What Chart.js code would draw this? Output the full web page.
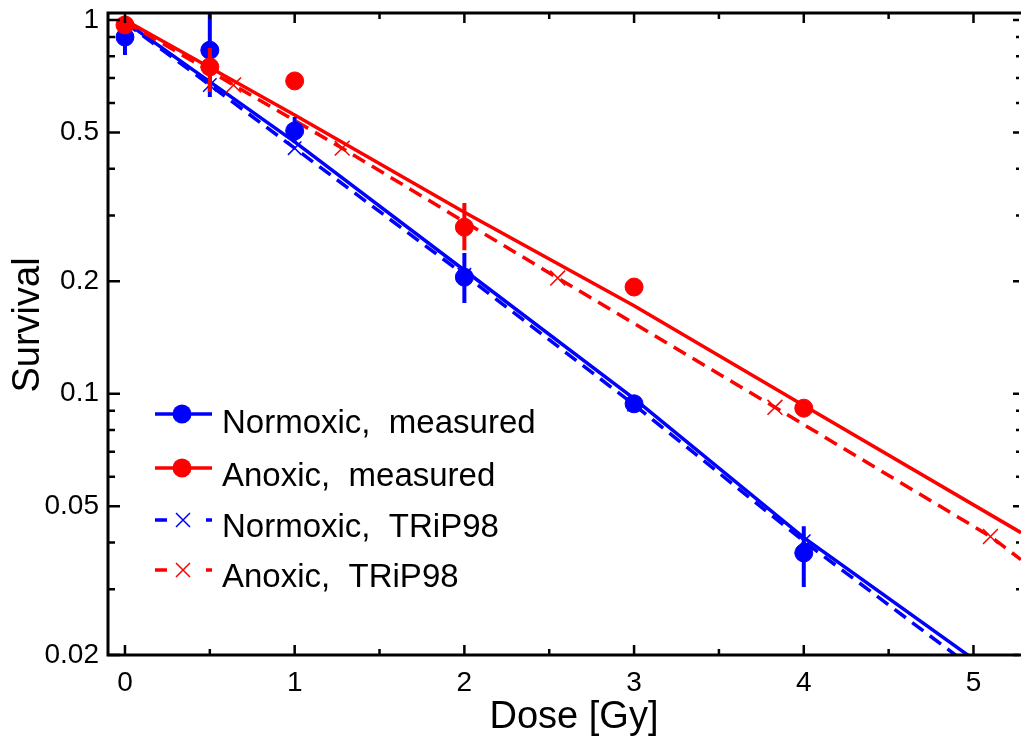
<!DOCTYPE html>
<html>
<head>
<meta charset="utf-8">
<script src="https://cdn.jsdelivr.net/npm/chart.js@4"></script>
<style>
  html, body { margin: 0; padding: 0; background: #fff; }
  #grafico { display: block; }
</style>
</head>
<body>
<canvas id="grafico" width="1021" height="738"></canvas>
<script>
// measured survival, dose in Gy
const dosesMeasured = [0, 0.5, 1, 2, 3, 4];
const normoxicMeasured = [0.90, 0.83, 0.505, 0.205, 0.094, 0.0375];
const normoxicErrLow = [0.806, 0.622, 0.469, 0.175, null, 0.0304];
const normoxicErrHigh = [0.97, 1.2, 0.55, 0.238, null, 0.0442];
const anoxicMeasured = [0.97, 0.749, 0.687, 0.279, 0.193, 0.0915];
const anoxicErrLow = [0.94, 0.642, null, 0.242, null, null];
const anoxicErrHigh = [0.995, 0.841, null, 0.324, null, null];

// fitted curves (solid)
const normoxicFitDoses = [0, 1, 2, 3, 4, 5];
const normoxicFit = [0.99, 0.472, 0.214, 0.097, 0.0412, 0.0195];
const anoxicFitDoses = [0, 1, 2, 3, 4, 5.28];
const anoxicFit = [1.0, 0.557, 0.306, 0.172, 0.093, 0.0425];

// TRiP98 curves (dashed), marks = where a cross is drawn
const normoxicTripDoses = [0, 0.5, 1, 2, 3, 4, 5];
const normoxicTrip = [0.985, 0.67, 0.454, 0.208, 0.0935, 0.0403, 0.0184];
const normoxicTripMarks = [false, true, true, true, true, true, false];
const anoxicTripDoses = [0, 0.64, 1.28, 2.55, 3.83, 5.1, 5.28];
const anoxicTrip = [0.99, 0.67, 0.454, 0.204, 0.092, 0.0415, 0.036];
const anoxicTripMarks = [false, true, true, true, true, true, false];

// axes
const xTicks = [0, 0.5, 1, 1.5, 2, 2.5, 3, 3.5, 4, 4.5, 5];
const yTicks = [0.02, 0.03, 0.04, 0.05, 0.06, 0.07, 0.08, 0.09, 0.1, 0.2, 0.3, 0.4, 0.5, 0.6, 0.7, 0.8, 0.9, 1];
const yLabels = [0.02, 0.05, 0.1, 0.2, 0.5, 1];
const xTitle = 'Dose [Gy]';
const yTitle = 'Survival';

const AZUL = '#0000ff';
const ROJO = '#ff0000';
const FUENTE = "'Liberation Sans', Arial, sans-serif";

function puntos(xs, ys) {
  return xs.map((d, i) => ({ x: d, y: ys[i] }));
}

// no automatic padding for tick labels, the plot box is fixed
function sinRelleno(s) {
  s.paddingTop = 0; s.paddingBottom = 0;
  s.paddingLeft = 0; s.paddingRight = 0;
}

// vertical error bars, drawn just before the dataset's dots
const barrasError = {
  id: 'barrasError',
  beforeDatasetDraw(chart, args) {
    const ds = chart.data.datasets[args.index];
    if (!ds.errLow) return;
    const { ctx, chartArea: a, scales: { x, y } } = chart;
    ctx.save();
    ctx.beginPath();
    ctx.rect(a.left, a.top, a.right - a.left, a.bottom - a.top);
    ctx.clip();
    ctx.strokeStyle = ds.borderColor;
    ctx.lineWidth = 4;
    ctx.beginPath();
    ds.data.forEach((p, i) => {
      if (ds.errLow[i] == null) return;
      const px = x.getPixelForValue(p.x);
      ctx.moveTo(px, y.getPixelForValue(ds.errLow[i]));
      ctx.lineTo(px, y.getPixelForValue(ds.errHigh[i]));
    });
    ctx.stroke();
    ctx.restore();
  }
};

// box + inward ticks on all four sides, plus axis titles
const marco = {
  id: 'marco',
  afterDatasetsDraw(chart) {
    const { ctx, chartArea: a, scales: { x, y } } = chart;
    ctx.save();
    ctx.strokeStyle = '#000';
    ctx.lineWidth = 2.5;
    ctx.beginPath();
    xTicks.forEach(v => {
      const px = x.getPixelForValue(v);
      const len = Number.isInteger(v) ? 10 : 6;
      ctx.moveTo(px, a.bottom); ctx.lineTo(px, a.bottom - len);
      ctx.moveTo(px, a.top); ctx.lineTo(px, a.top + len);
    });
    yTicks.forEach(v => {
      const py = y.getPixelForValue(v);
      const major = yLabels.includes(v);
      ctx.moveTo(a.left, py); ctx.lineTo(a.left + (major ? 12 : 7), py);
      ctx.moveTo(a.right - 2, py); ctx.lineTo(a.right - 2 - (major ? 6 : 3), py);
    });
    ctx.stroke();
    ctx.lineWidth = 3;
    ctx.beginPath();
    ctx.moveTo(a.right + 3, a.top); ctx.lineTo(a.left, a.top);
    ctx.lineTo(a.left, a.bottom); ctx.lineTo(a.right + 3, a.bottom);
    ctx.stroke();

    ctx.fillStyle = '#000';
    ctx.font = '38px ' + FUENTE;
    ctx.textAlign = 'center';
    ctx.textBaseline = 'alphabetic';
    ctx.fillText(xTitle, 574, 728);
    ctx.translate(39, 325);
    ctx.rotate(-Math.PI / 2);
    ctx.fillText(yTitle, 0, 0);
    ctx.restore();
  }
};

// legend inside the plot, lower left
const leyenda = {
  id: 'leyenda',
  afterDraw(chart) {
    const ctx = chart.ctx;
    const filas = [
      { texto: 'Normoxic,  measured', color: AZUL, tipo: 'punto', y: 414, base: 433 },
      { texto: 'Anoxic,  measured', color: ROJO, tipo: 'punto', y: 468, base: 486 },
      { texto: 'Normoxic,  TRiP98', color: AZUL, tipo: 'cruz', y: 520, base: 537 },
      { texto: 'Anoxic,  TRiP98', color: ROJO, tipo: 'cruz', y: 570, base: 587 }
    ];
    ctx.save();
    filas.forEach(f => {
      ctx.strokeStyle = f.color;
      ctx.fillStyle = f.color;
      ctx.lineWidth = 3.5;
      ctx.setLineDash(f.tipo === 'cruz' ? [12, 39] : []);
      ctx.beginPath();
      ctx.moveTo(155, f.y); ctx.lineTo(212, f.y);
      ctx.stroke();
      ctx.setLineDash([]);
      if (f.tipo === 'punto') {
        ctx.beginPath();
        ctx.arc(182, f.y, 9.5, 0, Math.PI * 2);
        ctx.fill();
      } else {
        ctx.lineWidth = 1.5;
        ctx.beginPath();
        ctx.moveTo(176, f.y - 7); ctx.lineTo(190, f.y + 7);
        ctx.moveTo(176, f.y + 7); ctx.lineTo(190, f.y - 7);
        ctx.stroke();
      }
      ctx.fillStyle = '#000';
      ctx.font = '33px ' + FUENTE;
      ctx.textBaseline = 'alphabetic';
      ctx.fillText(f.texto, 222, f.base);
    });
    ctx.restore();
  }
};

new Chart(document.getElementById('grafico').getContext('2d'), {
  type: 'scatter',
  data: {
    datasets: [
      {
        label: 'Normoxic, fit', data: puntos(normoxicFitDoses, normoxicFit), showLine: true,
        borderColor: AZUL, borderWidth: 3.5, pointRadius: 0, order: 6
      },
      {
        label: 'Anoxic, fit', data: puntos(anoxicFitDoses, anoxicFit), showLine: true,
        borderColor: ROJO, borderWidth: 3.5, pointRadius: 0, order: 5
      },
      {
        label: 'Normoxic, TRiP98', data: puntos(normoxicTripDoses, normoxicTrip), showLine: true,
        borderColor: AZUL, borderWidth: 3.5, borderDash: [14, 8],
        pointStyle: 'crossRot', pointRadius: normoxicTripMarks.map(m => m ? 9.5 : 0),
        pointBorderWidth: 1.5, pointBorderColor: AZUL, order: 4
      },
      {
        label: 'Anoxic, TRiP98', data: puntos(anoxicTripDoses, anoxicTrip), showLine: true,
        borderColor: ROJO, borderWidth: 3.5, borderDash: [14, 8],
        pointStyle: 'crossRot', pointRadius: anoxicTripMarks.map(m => m ? 10.5 : 0),
        pointBorderWidth: 1.5, pointBorderColor: ROJO, order: 3
      },
      {
        label: 'Normoxic, measured', data: puntos(dosesMeasured, normoxicMeasured),
        errLow: normoxicErrLow, errHigh: normoxicErrHigh,
        borderColor: AZUL, backgroundColor: AZUL, pointRadius: 9, pointBorderWidth: 1, order: 2
      },
      {
        label: 'Anoxic, measured', data: puntos(dosesMeasured, anoxicMeasured),
        errLow: anoxicErrLow, errHigh: anoxicErrHigh,
        borderColor: ROJO, backgroundColor: ROJO, pointRadius: 9, pointBorderWidth: 1, order: 1
      }
    ]
  },
  options: {
    responsive: false,
    animation: false,
    devicePixelRatio: 1,
    events: [],
    layout: { autoPadding: false, padding: { top: 13, right: 0, left: 0, bottom: 0 } },
    plugins: { legend: { display: false }, tooltip: { enabled: false } },
    scales: {
      x: {
        type: 'linear', min: -0.1, max: 5.28,
        grid: { display: false, drawTicks: false }, border: { display: false },
        afterFit: s => { s.height = 83; sinRelleno(s); },
        afterBuildTicks: s => { s.ticks = xTicks.map(v => ({ value: v })); },
        ticks: {
          autoSkip: false, maxRotation: 0, padding: 11, color: '#000',
          font: { family: FUENTE, size: 28 },
          callback: v => Number.isInteger(v) ? String(v) : ''
        }
      },
      y: {
        type: 'logarithmic', min: 0.02, max: 1.044,
        grid: { display: false, drawTicks: false }, border: { display: false },
        afterFit: s => { s.width = 108; sinRelleno(s); },
        afterBuildTicks: s => { s.ticks = yTicks.map(v => ({ value: v })); },
        ticks: {
          autoSkip: false, padding: 9, color: '#000',
          font: { family: FUENTE, size: 28 },
          callback: v => yLabels.includes(v) ? String(v) : ''
        }
      }
    }
  },
  plugins: [barrasError, marco, leyenda]
});
</script>
</body>
</html>
